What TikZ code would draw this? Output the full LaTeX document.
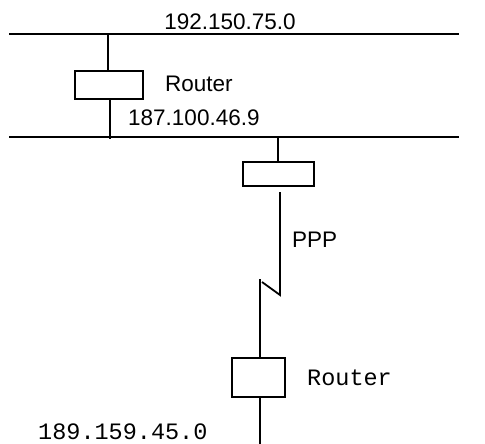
\documentclass[tikz,border=0pt]{standalone}
\usepackage{fontspec}
\setmainfont{Liberation Sans}
\setmonofont{Liberation Mono}
\usetikzlibrary{positioning, calc}
\tikzset{
    % Router boxes
    router/.style={
        rectangle,
        draw=black,
        line width=1.8pt,
        inner sep=0pt
    },
    % Network segments and links
    net/.style={
        line width=1.8pt,
        draw=black
    },
    lbl/.style={
        inner sep=0pt,
        font=\fontsize{22.5}{24}\selectfont
    },
    monolbl/.style={
        inner sep=0pt,
        font=\ttfamily\fontsize{23.5}{26}\selectfont
    }
}
\begin{document}
\begin{tikzpicture}[x=1pt, y=-1pt]
    \useasboundingbox (0,0) rectangle (485,444);

    % Networks
    \coordinate (netAw) at (9,34);
    \coordinate (netAe) at (459,34);
    \coordinate (netBw) at (9,137);
    \coordinate (netBe) at (459,137);
    \draw[net] (netAw) -- (netAe);
    \draw[net] (netBw) -- (netBe);
    \node[lbl] (netAlbl) at (230,22) {192.150.75.0};

    % First router between the two networks
    \node[router, minimum width=68pt, minimum height=28pt] (rA) at (109,85) {};
    \node[lbl, anchor=west] (rAlbl) at (165,84) {Router};
    \node[lbl, anchor=west] (rAip) at (128,118) {187.100.46.9};
    \coordinate (rAup) at (108,34);
    \coordinate (rAdn) at (110,139);
    \draw[net] (rAup) -- (rAup |- rA.north);
    \draw[net] (rAdn |- rA.south) -- (rAdn);

    % Router on the PPP end
    \node[router, minimum width=71pt, minimum height=24pt] (rB) at (278.5,174) {};
    \coordinate (rBup) at (278,137);
    \draw[net] (rBup) -- (rBup |- rB.north);

    % PPP link
    \coordinate (pppA) at (280,192);
    \coordinate (pppB) at (280,295);
    \coordinate (pppC) at (262,282);
    \coordinate (pppD) at (260,279);
    \draw[net] (pppA) -- (pppB) -- (pppC);
    \node[lbl, anchor=west] (ppplbl) at (292,240) {PPP};

    % Remote router
    \node[router, minimum width=53pt, minimum height=39pt] (rC) at (258.5,377.5) {};
    \node[monolbl, anchor=west] (rClbl) at (307,378) {Router};
    \coordinate (rCdn) at (260,444);
    \draw[net] (pppD) -- (pppD |- rC.north);
    \draw[net] (rCdn |- rC.south) -- (rCdn);
    \node[monolbl, anchor=west] (netClbl) at (38,432) {189.159.45.0};
\end{tikzpicture}
\end{document}
